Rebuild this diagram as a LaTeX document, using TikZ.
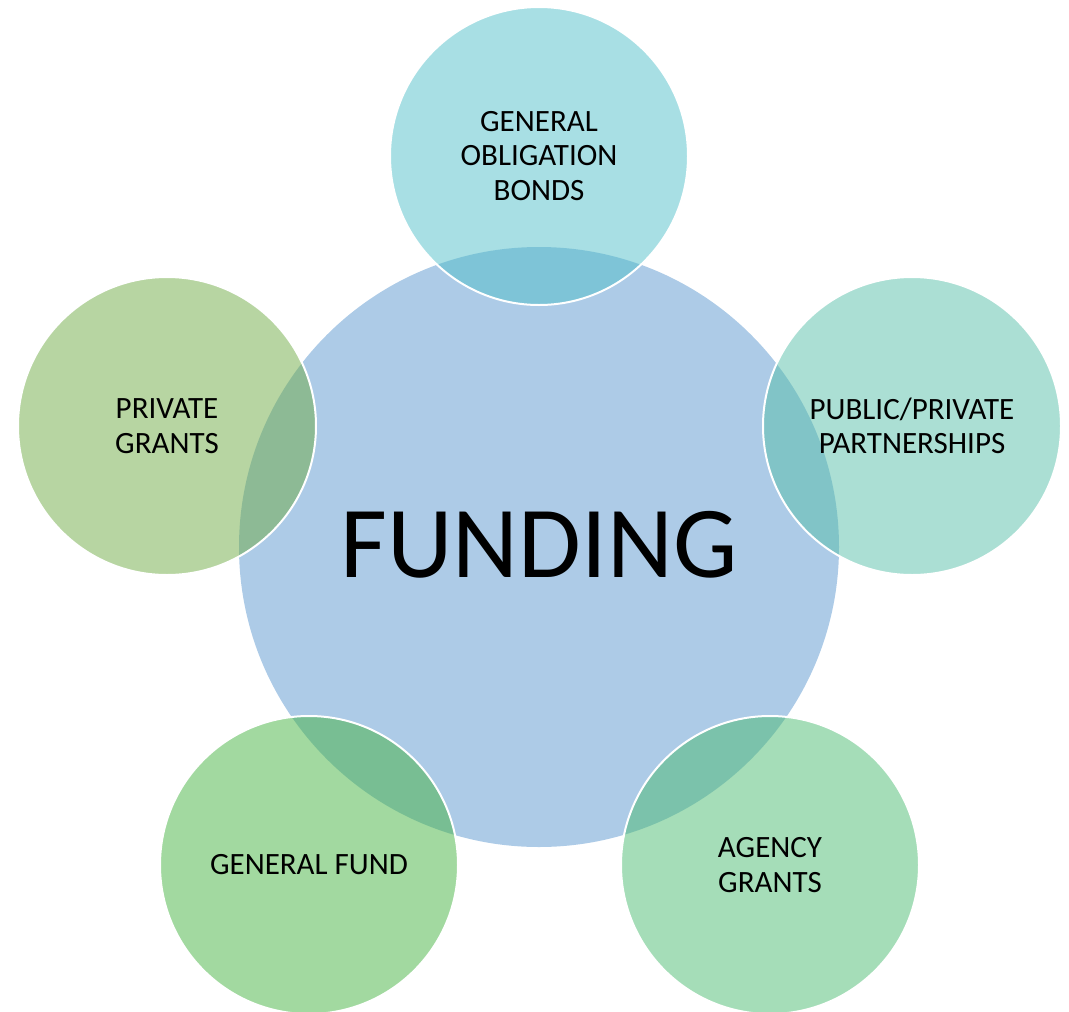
\documentclass[tikz,border=0pt]{standalone}
\usepackage{fontspec}
\setmainfont{Carlito}
\definecolor{centerc}{RGB}{173,203,231}
\definecolor{topc}{RGB}{81,191,201}
\definecolor{rightc}{RGB}{87,191,169}
\definecolor{leftc}{RGB}{111,171,69}
\definecolor{blc}{RGB}{69,179,65}
\definecolor{brc}{RGB}{75,187,113}
\begin{document}
\begin{tikzpicture}[x=1pt,y=-1pt,
  hub/.style={circle,fill=centerc,minimum size=600pt,inner sep=0pt,
    font=\fontsize{102}{110}\selectfont},
  sat/.style={circle,fill=#1,fill opacity=0.5,text opacity=1,draw=white,
    draw opacity=1,line width=2pt,minimum size=298pt,inner sep=0pt,align=center,
    font=\fontsize{31}{34.5}\selectfont}]
\useasboundingbox (0,0) rectangle (1069,1012);
\node[hub] (hub) at (539,547) {};
\node (fund) at (539,545) {\fontsize{102}{110}\selectfont FUNDING};
\node[sat=topc] (gob) at (539,156) {GENERAL\\OBLIGATION\\BONDS};
\node[sat=rightc] (ppp) at (912,426) {PUBLIC/PRIVATE\\PARTNERSHIPS};
\node[sat=leftc] (pg) at (167,426) {PRIVATE\\GRANTS};
\node[sat=blc] (gf) at (309,865) {GENERAL FUND};
\node[sat=brc] (ag) at (770,865) {AGENCY\\GRANTS};
\end{tikzpicture}
\end{document}
